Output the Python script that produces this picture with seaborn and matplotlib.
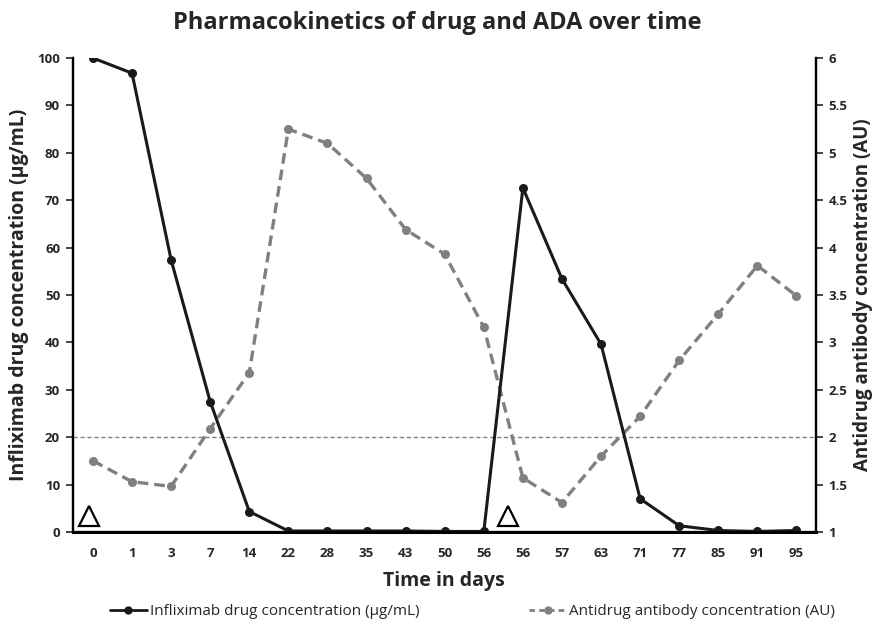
import numpy as np
import pandas as pd
import matplotlib
matplotlib.use("Agg")
import matplotlib.pyplot as plt
import seaborn as sns
from matplotlib.lines import Line2D

# Data
days = ["0", "1", "3", "7", "14", "22", "28", "35", "43", "50", "56",
        "56", "57", "63", "71", "77", "85", "91", "95"]
infliximab = [100, 96.8, 57.4, 27.5, 4.3, 0.2, 0.2, 0.2, 0.2, 0.1, 0.1,
              72.6, 53.4, 39.6, 7.0, 1.3, 0.3, 0.1, 0.3]
ada = [1.75, 1.53, 1.48, 2.09, 2.68, 5.25, 5.10, 4.73, 4.19, 3.93, 3.16,
       1.57, 1.31, 1.80, 2.22, 2.81, 3.30, 3.81, 3.49]
dose_pos = [-0.11, 10.63]   # infusion markers
dose_level = 3.4
threshold = 20

sns.set_style("white")
plt.rcParams['font.family'] = ['Open Sans', 'DejaVu Sans']

df = pd.DataFrame({"pos": np.arange(len(days)), "ifx": infliximab, "ada": ada})

fig = plt.figure(figsize=(8.75, 6.28), dpi=100)
ax = fig.add_axes([0.083, 0.153, 0.8496, 0.7546])
ax2 = ax.twinx()

ax.axhline(threshold, color='#808080', lw=1, ls=(0, (3, 2)), zorder=1)

sns.lineplot(data=df, x="pos", y="ada", ax=ax2, color='#808080', lw=2.4,
             marker='o', markersize=6.5, markeredgewidth=0, sort=False)
ax2.lines[-1].set_linestyle((0, (3.2, 1.8)))
sns.lineplot(data=df, x="pos", y="ifx", ax=ax, color='#1a1a1a', lw=2.2,
             marker='o', markersize=6.5, markeredgewidth=0, sort=False)
ax.set_zorder(ax2.get_zorder() + 1)
ax.patch.set_visible(False)

ax.plot(dose_pos, [dose_level] * len(dose_pos), ls='none', marker='^',
        markersize=14.5, markerfacecolor='white', markeredgecolor='black',
        markeredgewidth=1.6, clip_on=False)

ax.set_xlim(-0.52, 18.5)
ax.set_ylim(0, 100)
ax2.set_ylim(1, 6)
ax.set_xticks(np.arange(len(days)))
ax.set_xticklabels(days)
ax.set_yticks(range(0, 101, 10))
ax2.set_yticks(np.arange(1, 6.01, 0.5))
ax2.set_yticklabels(["1", "1.5", "2", "2.5", "3", "3.5", "4", "4.5", "5", "5.5", "6"])

for a in (ax, ax2):
    a.spines['top'].set_visible(False)
    for s in ('left', 'right', 'bottom'):
        a.spines[s].set_color('black')
        a.spines[s].set_linewidth(1.6)
    a.tick_params(axis='y', length=5, width=1.2, labelsize=9.5, pad=4)
    for lbl in a.get_yticklabels():
        lbl.set_fontweight('bold')
ax.spines['bottom'].set_linewidth(2.2)
ax.tick_params(axis='x', length=0, labelsize=9.5, pad=11)
for lbl in ax.get_xticklabels():
    lbl.set_fontweight('bold')
ax.tick_params(axis='y', left=True, right=False, direction='out')
ax2.tick_params(axis='y', right=True, left=False, direction='out')

ax.set_xlabel("Time in days", fontsize=14, fontweight='bold', labelpad=8)
ax.set_ylabel("Infliximab drug concentration (µg/mL)", fontsize=14,
              fontweight='bold', labelpad=6)
ax2.set_ylabel("Antidrug antibody concentration (AU)", fontsize=13.5,
               fontweight='bold', labelpad=4)
fig.suptitle("Pharmacokinetics of drug and ADA over time", fontsize=17,
             fontweight='bold', y=0.982)

handles = [
    Line2D([], [], color='#1a1a1a', lw=2, marker='o', markersize=5),
    Line2D([], [], color='#808080', lw=2, ls=(0, (2, 1.5)), marker='o', markersize=5),
]
fig.legend(handles, ["Infliximab drug concentration (µg/mL)",
                     "Antidrug antibody concentration (AU)"],
           loc='center', bbox_to_anchor=(0.54, 0.026), ncol=2, frameon=False,
           fontsize=11, handlelength=2.4, handletextpad=0.2, columnspacing=7.2)

fig.savefig("out.png", dpi=100)
